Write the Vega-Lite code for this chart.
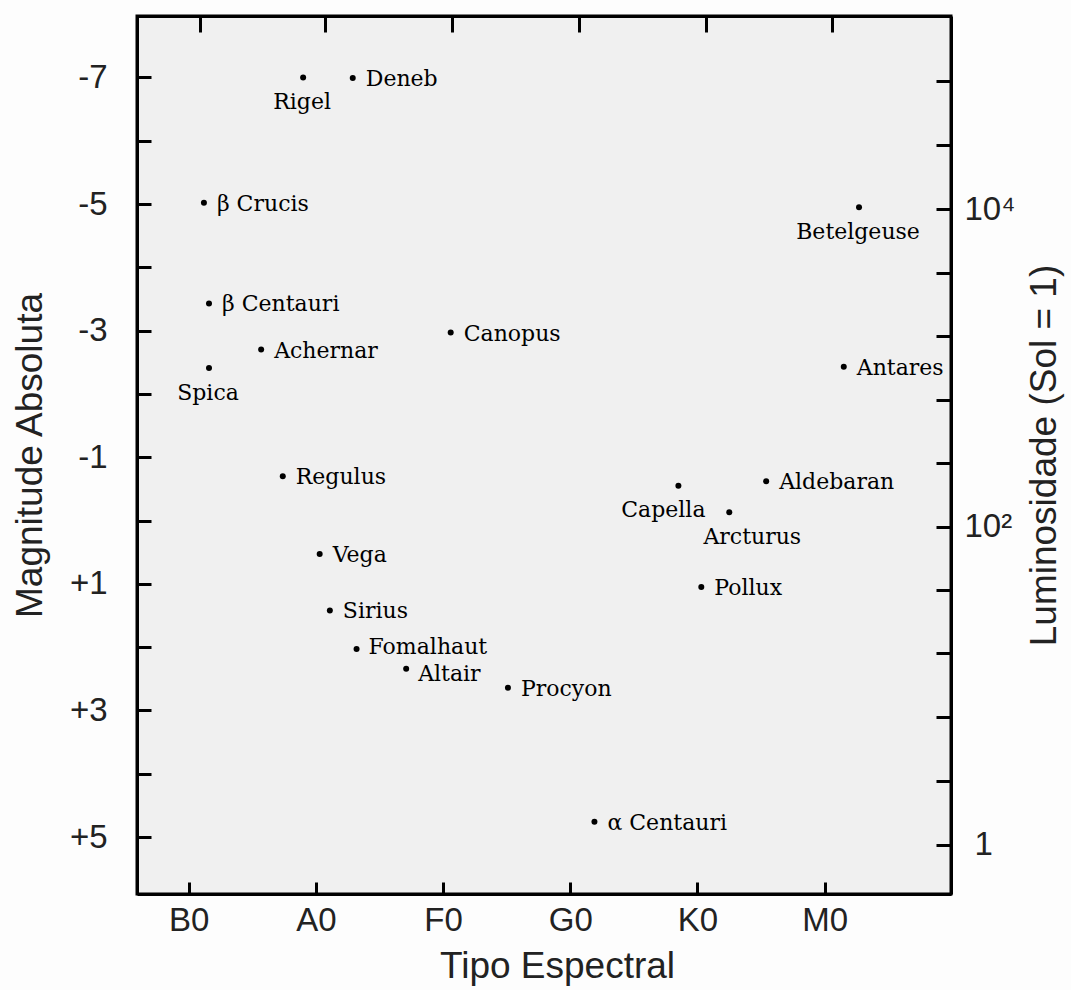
{
  "$schema": "https://vega.github.io/schema/vega-lite/v6.json",
  "width": 814,
  "height": 878,
  "autosize": {"type": "none"},
  "padding": {"left": 137, "top": 16, "right": 120, "bottom": 96},
  "background": "#fdfdfd",
  "config": {
    "view": {"fill": "#f0f0f0", "stroke": "#000000", "strokeWidth": 3},
    "axis": {
      "domainColor": "#000000", "domainWidth": 3,
      "tickColor": "#000000", "tickWidth": 3,
      "grid": false,
      "labelFont": "Liberation Sans", "labelFontSize": 33, "labelColor": "#222222",
      "titleFont": "Liberation Sans", "titleFontSize": 37, "titleFontWeight": "normal", "titleColor": "#222222",
      "labelFlush": false, "labelOverlap": false
    }
  },
  "data": {
    "values": [
      {"star": "Rigel", "tipo": 0.90, "mag": -7.00},
      {"star": "Deneb", "tipo": 1.29, "mag": -6.99},
      {"star": "β Crucis", "tipo": 0.12, "mag": -5.02},
      {"star": "β Centauri", "tipo": 0.16, "mag": -3.43},
      {"star": "Achernar", "tipo": 0.57, "mag": -2.70},
      {"star": "Spica", "tipo": 0.16, "mag": -2.41},
      {"star": "Canopus", "tipo": 2.06, "mag": -2.97},
      {"star": "Betelgeuse", "tipo": 5.27, "mag": -4.95},
      {"star": "Antares", "tipo": 5.15, "mag": -2.43},
      {"star": "Regulus", "tipo": 0.74, "mag": -0.70},
      {"star": "Vega", "tipo": 1.03, "mag": 0.53},
      {"star": "Sirius", "tipo": 1.11, "mag": 1.42},
      {"star": "Fomalhaut", "tipo": 1.32, "mag": 2.03},
      {"star": "Altair", "tipo": 1.71, "mag": 2.34},
      {"star": "Procyon", "tipo": 2.51, "mag": 2.64},
      {"star": "α Centauri", "tipo": 3.19, "mag": 4.76},
      {"star": "Capella", "tipo": 3.85, "mag": -0.55},
      {"star": "Arcturus", "tipo": 4.25, "mag": -0.13},
      {"star": "Aldebaran", "tipo": 4.54, "mag": -0.62},
      {"star": "Pollux", "tipo": 4.03, "mag": 1.05}
    ]
  },
  "layer": [
    {
      "mark": {"type": "circle", "color": "#000000", "size": 36, "opacity": 1},
      "encoding": {
        "x": {"field": "tipo", "type": "quantitative",
          "scale": {"domain": [-0.406, 5.993], "nice": false, "zero": false},
          "axis": {"orient": "bottom", "values": [0, 1, 2, 3, 4, 5], "ticks": true, "tickOpacity": 1, "zindex": 1,
            "tickSize": -12, "labelPadding": 22,
            "labelExpr": "['B0','A0','F0','G0','K0','M0'][datum.value]",
            "title": "Tipo Espectral", "titlePadding": 11, "titleX": 420}},
        "y": {"field": "mag", "type": "quantitative",
          "scale": {"domain": [-7.97, 5.9], "reverse": true, "nice": false, "zero": false},
          "axis": {"orient": "left", "values": [-7, -6, -5, -4, -3, -2, -1, 0, 1, 2, 3, 4, 5], "tickSize": -14, "labelPadding": 44,
            "labelExpr": "datum.value % 2 == 0 ? '' : (datum.value > 0 ? '+' + datum.value : '-' + abs(datum.value))",
            "title": "Magnitude Absoluta", "titlePadding": 20}}
      }
    },
    {
      "mark": {"type": "circle", "opacity": 0},
      "encoding": {
        "x": {"field": "tipo", "type": "quantitative",
          "scale": {"domain": [-0.406, 5.993], "nice": false, "zero": false},
          "axis": {"orient": "top", "values": [0.09, 1.07, 2.07, 3.07, 4.07, 5.06], "ticks": true, "tickOpacity": 1, "zindex": 1,
            "tickSize": -16, "labels": false, "title": null}},
        "y": {"field": "mag", "type": "quantitative",
          "scale": {"domain": [-7.97, 5.9], "reverse": true, "nice": false, "zero": false},
          "axis": {"orient": "right",
            "values": [-6.94, -5.93, -4.92, -3.91, -2.91, -1.91, -0.91, 0.10, 1.10, 2.10, 3.11, 4.11, 5.12],
            "tickSize": -15,
            "labelPadding": {"condition": {"test": "datum.value > 5", "value": 38}, "value": 28},
            "labelAlign": "left", "labelBaseline": "middle",
            "labelExpr": "datum.value > 5 ? '1' : (abs(datum.value - 0.10) < 0.05 ? '10²' : (abs(datum.value + 4.92) < 0.05 ? '10⁴' : ''))",
            "title": "Luminosidade (Sol = 1)", "titleAngle": 270, "titleBaseline": "top", "titlePadding": 12}}
      }
    },
    {
      "transform": [{"filter": "indexof(['Rigel','Spica','Betelgeuse','Capella','Arcturus','Fomalhaut','Altair'], datum.star) < 0"}],
      "mark": {"type": "text", "font": "DejaVu Serif", "fontSize": 22, "color": "#000000", "align": "left", "baseline": "alphabetic", "dx": 13, "dy": 8},
      "encoding": {
        "x": {"field": "tipo", "type": "quantitative", "scale": {"domain": [-0.406, 5.993], "nice": false, "zero": false}, "axis": null},
        "y": {"field": "mag", "type": "quantitative", "scale": {"domain": [-7.97, 5.9], "reverse": true, "nice": false, "zero": false}, "axis": null},
        "text": {"field": "star"}
      }
    },
    {
      "transform": [{"filter": "datum.star == 'Fomalhaut'"}],
      "mark": {"type": "text", "font": "DejaVu Serif", "fontSize": 22, "color": "#000000", "align": "left", "baseline": "alphabetic", "dx": 12, "dy": 5},
      "encoding": {
        "x": {"field": "tipo", "type": "quantitative", "scale": {"domain": [-0.406, 5.993], "nice": false, "zero": false}, "axis": null},
        "y": {"field": "mag", "type": "quantitative", "scale": {"domain": [-7.97, 5.9], "reverse": true, "nice": false, "zero": false}, "axis": null},
        "text": {"field": "star"}
      }
    },
    {
      "transform": [{"filter": "datum.star == 'Altair'"}],
      "mark": {"type": "text", "font": "DejaVu Serif", "fontSize": 22, "color": "#000000", "align": "left", "baseline": "alphabetic", "dx": 12, "dy": 12},
      "encoding": {
        "x": {"field": "tipo", "type": "quantitative", "scale": {"domain": [-0.406, 5.993], "nice": false, "zero": false}, "axis": null},
        "y": {"field": "mag", "type": "quantitative", "scale": {"domain": [-7.97, 5.9], "reverse": true, "nice": false, "zero": false}, "axis": null},
        "text": {"field": "star"}
      }
    },
    {
      "transform": [{"filter": "indexof(['Rigel','Spica','Betelgeuse'], datum.star) >= 0"}],
      "mark": {"type": "text", "font": "DejaVu Serif", "fontSize": 22, "color": "#000000", "align": "center", "baseline": "alphabetic", "dx": -1, "dy": 32},
      "encoding": {
        "x": {"field": "tipo", "type": "quantitative", "scale": {"domain": [-0.406, 5.993], "nice": false, "zero": false}, "axis": null},
        "y": {"field": "mag", "type": "quantitative", "scale": {"domain": [-7.97, 5.9], "reverse": true, "nice": false, "zero": false}, "axis": null},
        "text": {"field": "star"}
      }
    },
    {
      "transform": [{"filter": "datum.star == 'Capella'"}],
      "mark": {"type": "text", "font": "DejaVu Serif", "fontSize": 22, "color": "#000000", "align": "center", "baseline": "alphabetic", "dx": -15, "dy": 31},
      "encoding": {
        "x": {"field": "tipo", "type": "quantitative", "scale": {"domain": [-0.406, 5.993], "nice": false, "zero": false}, "axis": null},
        "y": {"field": "mag", "type": "quantitative", "scale": {"domain": [-7.97, 5.9], "reverse": true, "nice": false, "zero": false}, "axis": null},
        "text": {"field": "star"}
      }
    },
    {
      "transform": [{"filter": "datum.star == 'Arcturus'"}],
      "mark": {"type": "text", "font": "DejaVu Serif", "fontSize": 22, "color": "#000000", "align": "center", "baseline": "alphabetic", "dx": 23, "dy": 32},
      "encoding": {
        "x": {"field": "tipo", "type": "quantitative", "scale": {"domain": [-0.406, 5.993], "nice": false, "zero": false}, "axis": null},
        "y": {"field": "mag", "type": "quantitative", "scale": {"domain": [-7.97, 5.9], "reverse": true, "nice": false, "zero": false}, "axis": null},
        "text": {"field": "star"}
      }
    }
  ],
  "resolve": {"axis": {"x": "independent", "y": "independent"}}
}
